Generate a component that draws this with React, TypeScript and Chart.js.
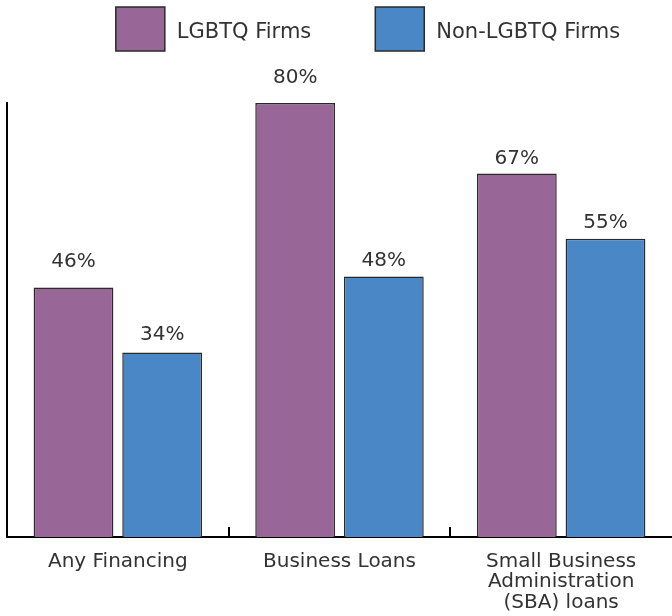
import React, { useEffect, useRef } from "react";
import { Chart, registerables } from "chart.js";

Chart.register(...registerables);

const categories: (string | string[])[] = [
  "Any Financing",
  "Business Loans",
  ["Small Business", "Administration", "(SBA) loans"],
];
const seriesNames = ["LGBTQ Firms", "Non-LGBTQ Firms"];
const lgbtqValues = [46, 80, 67];
const nonLgbtqValues = [34, 48, 55];
const yMin = 0;
const yMax = 80;

const PURPLE = "#986798";
const BLUE = "#4A87C7";
const BORDER = "#2a2a2a";
const TEXT = "#333333";
const FONT = "'DejaVu Sans', sans-serif";

const valueLabelPlugin = {
  id: "valueLabels",
  afterDatasetsDraw(chart: any, _args: any, opts: any) {
    const ctx = chart.ctx;
    ctx.save();
    ctx.font = `${opts.size}px ${FONT}`;
    ctx.fillStyle = TEXT;
    ctx.textAlign = "center";
    ctx.textBaseline = "middle";
    chart.data.datasets.forEach((ds: any, di: number) => {
      const meta = chart.getDatasetMeta(di);
      meta.data.forEach((el: any, i: number) => {
        const lift = (opts.lift[di] && opts.lift[di][i]) || 17;
        ctx.fillText(`${ds.data[i]}%`, el.x, el.y - lift);
      });
    });
    ctx.restore();
  },
};

const customLegendPlugin = {
  id: "customLegend",
  afterDraw(chart: any, _args: any, opts: any) {
    const ctx = chart.ctx;
    ctx.save();
    ctx.font = `${opts.size}px ${FONT}`;
    const items = chart.data.datasets.map((ds: any) => ({
      label: ds.label,
      color: ds.backgroundColor,
      w: opts.boxW + opts.textGap + ctx.measureText(ds.label).width,
    }));
    const total =
      items.reduce((s: number, it: any) => s + it.w, 0) +
      opts.itemGap * (items.length - 1);
    let x = opts.centerX - total / 2;
    items.forEach((it: any) => {
      ctx.fillStyle = it.color;
      ctx.fillRect(x, opts.top, opts.boxW, opts.boxH);
      ctx.lineWidth = 1.5;
      ctx.strokeStyle = BORDER;
      ctx.strokeRect(x, opts.top, opts.boxW, opts.boxH);
      ctx.fillStyle = TEXT;
      ctx.textAlign = "left";
      ctx.textBaseline = "middle";
      ctx.fillText(
        it.label,
        x + opts.boxW + opts.textGap,
        opts.top + opts.boxH / 2 + 4
      );
      x += it.w + opts.itemGap;
    });
    ctx.restore();
  },
};

export default function App() {
  const ref = useRef<HTMLCanvasElement>(null);

  useEffect(() => {
    document.body.style.margin = "0";
    if (!ref.current) return;
    const tickColor = (c: any) =>
      c.index === 1 || c.index === 2 ? "#000000" : "rgba(0,0,0,0)";
    const chart = new Chart(ref.current, {
      type: "bar",
      data: {
        labels: categories as any,
        datasets: [
          {
            label: seriesNames[0],
            data: lgbtqValues,
            backgroundColor: PURPLE,
            borderColor: BORDER,
            borderWidth: 1.5,
            categoryPercentage: 0.8,
            barPercentage: 0.9,
          },
          {
            label: seriesNames[1],
            data: nonLgbtqValues,
            backgroundColor: BLUE,
            borderColor: BORDER,
            borderWidth: 1.5,
            categoryPercentage: 0.8,
            barPercentage: 0.9,
          },
        ],
      },
      options: {
        responsive: false,
        animation: false,
        layout: { padding: { top: 103, left: 7, right: 0, bottom: 0 } },
        plugins: {
          legend: { display: false },
          tooltip: { enabled: false },
          valueLabels: {
            size: 20,
            lift: [
              [26, 25, 15],
              [18, 16, 16],
            ],
          },
          customLegend: {
            size: 21,
            boxW: 49,
            boxH: 44,
            textGap: 12,
            itemGap: 64,
            centerX: 368,
            top: 7,
          },
        } as any,
        scales: {
          x: {
            afterFit(scale: any) {
              scale.height = 79;
            },
            grid: {
              display: true,
              drawOnChartArea: false,
              drawTicks: true,
              tickLength: -10,
              lineWidth: 2,
              color: tickColor,
              tickColor: tickColor,
              offset: true,
            },
            border: { display: true, color: "#000000", width: 2 },
            ticks: {
              padding: 24,
              color: TEXT,
              font: { family: FONT, size: 20, lineHeight: 1.03 },
              maxRotation: 0,
              autoSkip: false,
            },
          },
          y: {
            min: yMin,
            max: yMax,
            grid: { display: false, drawTicks: false },
            border: { display: true, color: "#000000", width: 2 },
            ticks: { display: false },
          },
        },
      },
      plugins: [valueLabelPlugin, customLegendPlugin],
    });
    return () => chart.destroy();
  }, []);

  return (
    <div style={{ width: 672, height: 616 }}>
      <canvas ref={ref} width={672} height={616} style={{ display: "block" }} />
    </div>
  );
}
